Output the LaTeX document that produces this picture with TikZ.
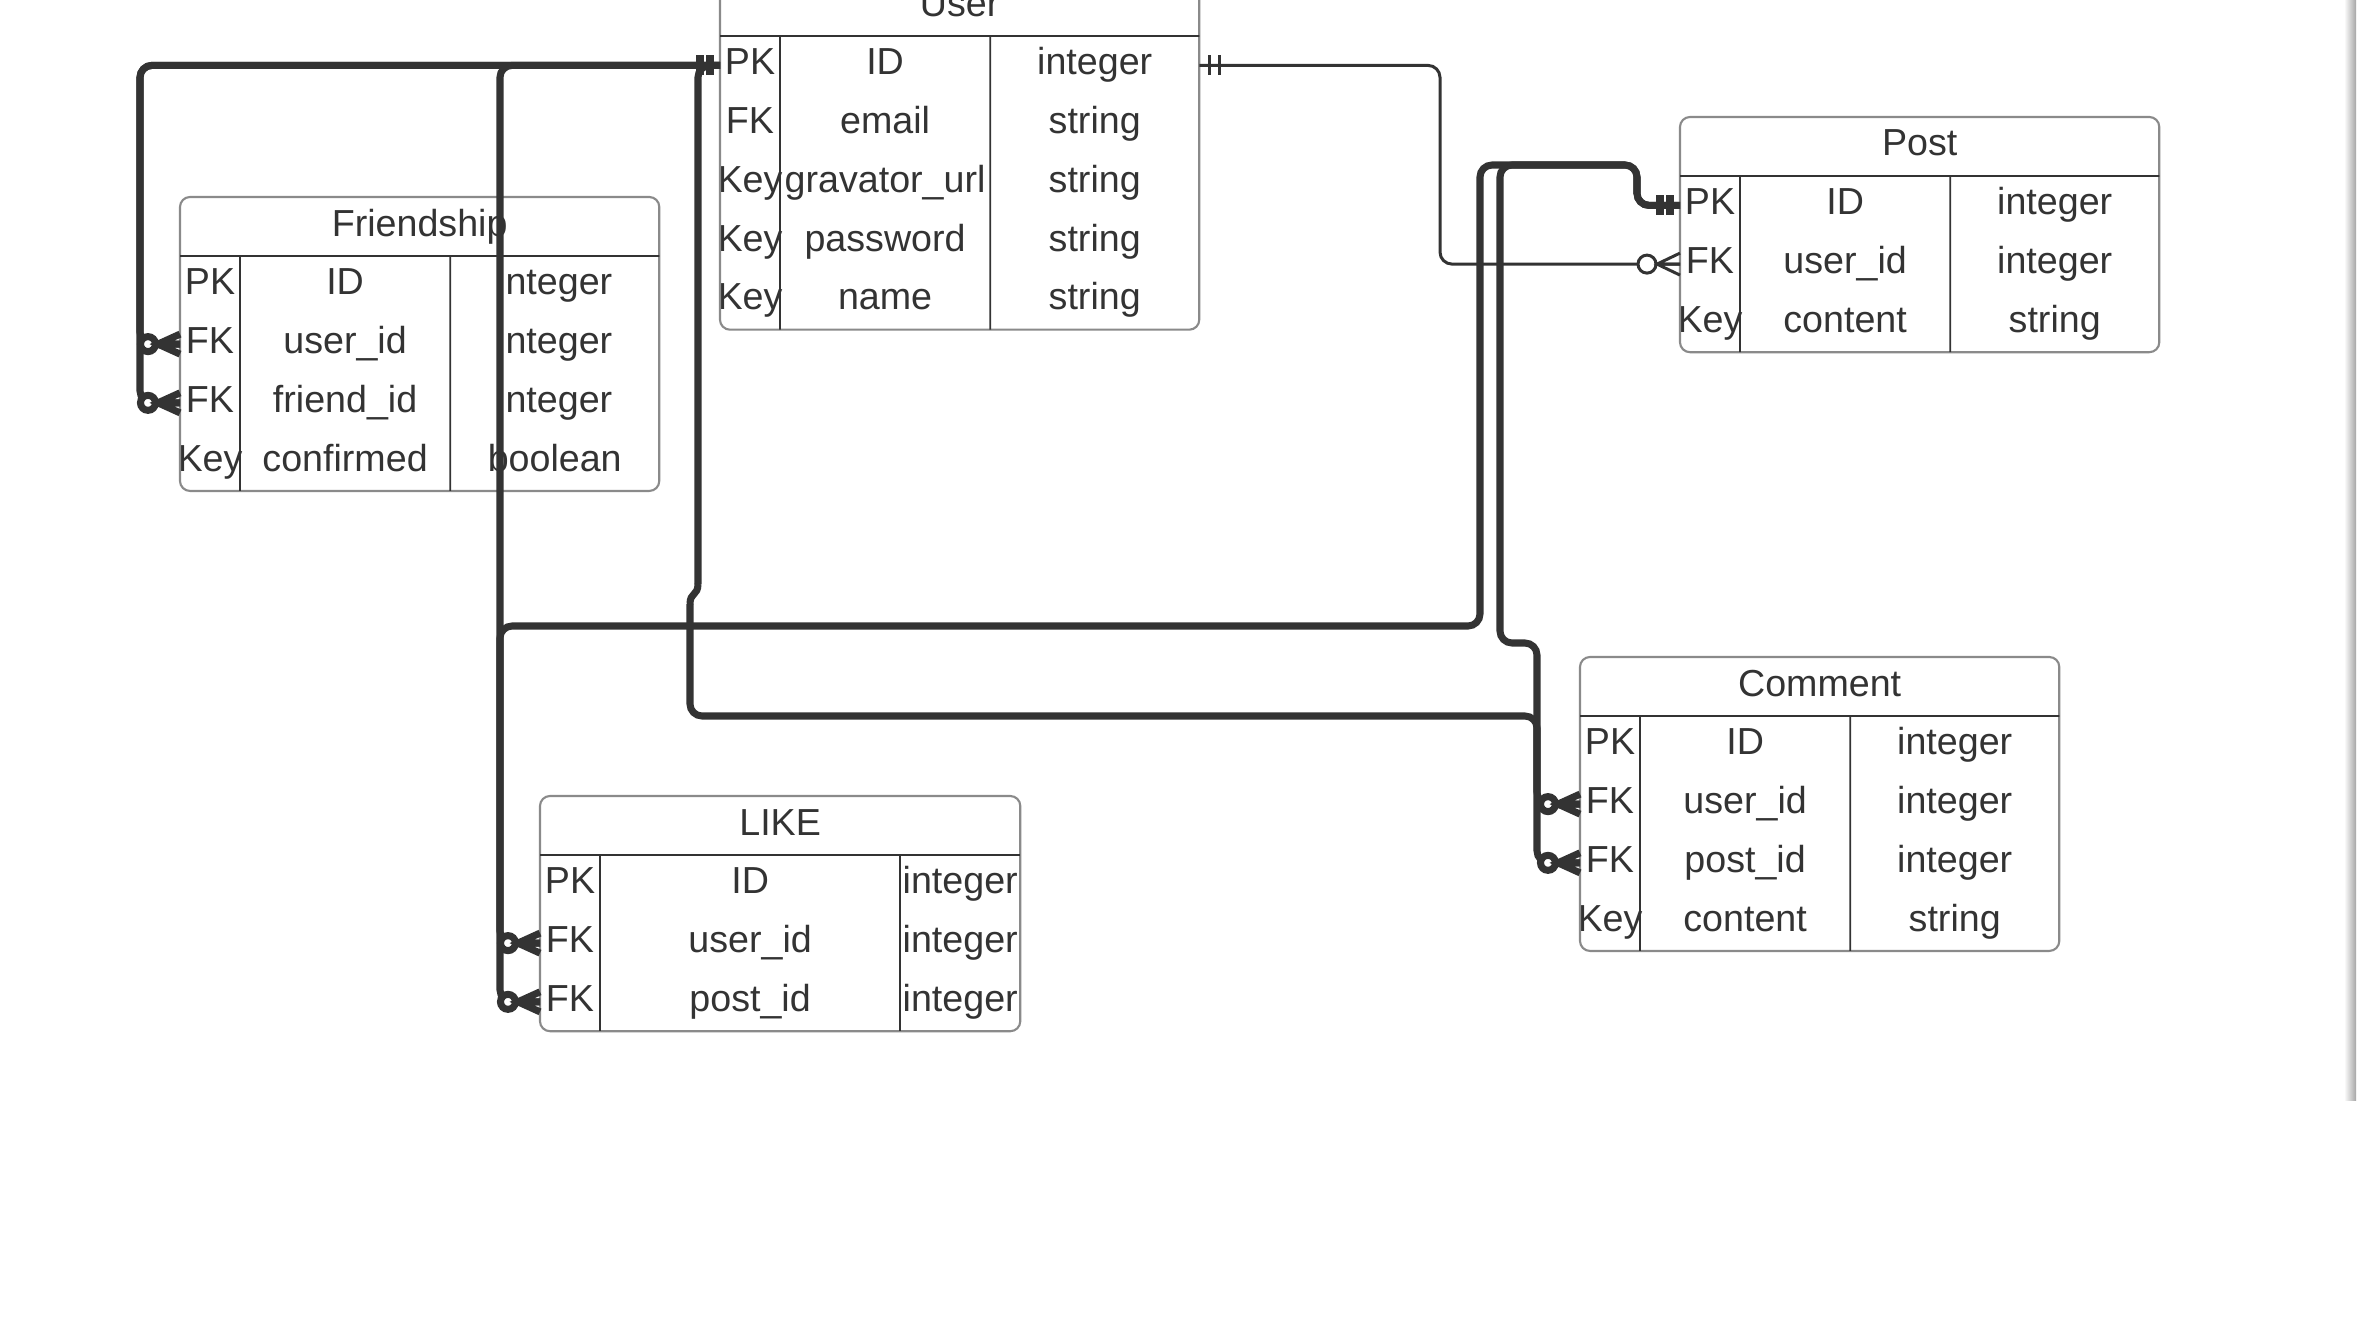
\documentclass[tikz,border=0pt]{standalone}
\usepackage{fontspec}
\setmainfont{Liberation Sans}
\usepackage{tikz}
\usetikzlibrary{matrix,positioning}
\definecolor{ERInk}{HTML}{333333}
\definecolor{FrameGray}{HTML}{8A8A8A}
\tikzset{
  exactone/.pic={\draw[line width=2pt] (-20,-10) -- (-20,10) (-10,-10) -- (-10,10);},
  exactonethin/.pic={\draw[line width=0.85pt] (-20,-10) -- (-20,10) (-10,-10) -- (-10,10);},
  zeromany/.pic={\draw[line width=2pt,fill=white] (-32,0) circle[radius=0.075cm];
    \draw[line width=2pt] (0,-10) -- (-22,0) -- (0,10) (-22,0) -- (0,0);},
  zeromanythin/.pic={\draw[line width=0.85pt,fill=white] (-33,0) circle[radius=0.09cm];
    \draw[line width=0.85pt] (0,-11) -- (-23,0) -- (0,11) (-23,0) -- (0,0);}
}
\begin{document}
\begin{tikzpicture}[x=0.01cm,y=-0.01cm,node distance=0pt,ERInk]
\tikzstyle{ertable}=[matrix of nodes,inner sep=0pt,outer sep=0pt,matrix anchor=north west,
  nodes={inner sep=0pt,outer sep=0pt,minimum height=0.587cm,text height=0.3cm,text depth=0.11cm,font=\fontsize{10.7}{13}\selectfont,text=ERInk},
  column 1/.style={nodes={minimum width=0.6cm,inner xsep=-0.1cm}},
  column 2/.style={nodes={minimum width=2.1cm}},
  column 3/.style={nodes={minimum width=2.09cm}}]
\tikzstyle{erhead}=[inner sep=0pt,outer sep=0pt,minimum width=4.79cm,minimum height=0.59cm,text height=0.3cm,text depth=0.11cm,font=\fontsize{10.7}{13}\selectfont,text=ERInk]
\tikzstyle{erframe}=[draw=FrameGray,line width=0.6pt,rounded corners=0.1cm]
\tikzstyle{ercol}=[draw=ERInk,line width=0.5pt]
\tikzstyle{rel}=[draw=ERInk,line width=2pt,rounded corners=0.12cm]
\tikzstyle{relthin}=[draw=ERInk,line width=0.85pt,rounded corners=0.12cm]
\path[use as bounding box,fill=white] (0,0) rectangle (2359,1317);
\shade[left color=white,right color=black!35] (2344,0) rectangle (2356,1100);

\matrix[ertable] (user) at (720,36) {
PK & ID & integer \\
FK & email & string \\
Key & gravator\_url & string \\
Key & password & string \\
Key & name & string \\
};
\node[erhead,above=of user] (userhead) {User};
\matrix[ertable] (fr) at (180,256) {
PK & ID & integer \\
FK & user\_id & integer \\
FK & friend\_id & integer \\
Key & confirmed & boolean \\
};
\node[erhead,above=of fr] (frhead) {Friendship};
\matrix[ertable] (post) at (1680,176) {
PK & ID & integer \\
FK & user\_id & integer \\
Key & content & string \\
};
\node[erhead,above=of post] (posthead) {Post};
\matrix[ertable] (com) at (1580,716) {
PK & ID & integer \\
FK & user\_id & integer \\
FK & post\_id & integer \\
Key & content & string \\
};
\node[erhead,above=of com] (comhead) {Comment};
\matrix[ertable,column 2/.style={nodes={minimum width=3cm}},column 3/.style={nodes={minimum width=1.2cm}}] (like) at (540,855) {
PK & ID & integer \\
FK & user\_id & integer \\
FK & post\_id & integer \\
};
\node[erhead,minimum width=4.8cm,above=of like] (likehead) {LIKE};

\draw[erframe] (userhead.north west) rectangle (user.south east);
\draw[ercol] (userhead.south west) -- (userhead.south east)
  (user-1-1.north east) -- (user-5-1.south east)
  (user-1-2.north east) -- (user-5-2.south east);
\draw[erframe] (frhead.north west) rectangle (fr.south east);
\draw[ercol] (frhead.south west) -- (frhead.south east)
  (fr-1-1.north east) -- (fr-4-1.south east)
  (fr-1-2.north east) -- (fr-4-2.south east);
\draw[erframe] (posthead.north west) rectangle (post.south east);
\draw[ercol] (posthead.south west) -- (posthead.south east)
  (post-1-1.north east) -- (post-3-1.south east)
  (post-1-2.north east) -- (post-3-2.south east);
\draw[erframe] (comhead.north west) rectangle (com.south east);
\draw[ercol] (comhead.south west) -- (comhead.south east)
  (com-1-1.north east) -- (com-4-1.south east)
  (com-1-2.north east) -- (com-4-2.south east);
\draw[erframe] (likehead.north west) rectangle (like.south east);
\draw[ercol] (likehead.south west) -- (likehead.south east)
  (like-1-1.north east) -- (like-3-1.south east)
  (like-1-2.north east) -- (like-3-2.south east);

\coordinate (frch) at (140,0);
\coordinate (likech) at (500,0);
\coordinate (jogtop) at (698,584);
\coordinate (jogbot) at (690,604);
\coordinate (comturn) at (690,716);
\coordinate (comch) at (1537,0);
\coordinate (postrise) at (1637,165);
\coordinate (likedrop) at (1480,626);
\coordinate (comdrop) at (1500,643);
\coordinate (thinch) at (1440,0);

\draw[rel] (user-1-1.west) -| (frch |- fr-2-1.west) -- (fr-2-1.west);
\draw[rel] (user-1-1.west) -| (frch |- fr-3-1.west) -- (fr-3-1.west);
\draw[rel] (user-1-1.west) -| (likech |- like-2-1.west) -- (like-2-1.west);
\draw[rel] (user-1-1.west) -| (jogtop);
\draw[rel,sharp corners] (jogtop) .. controls (698,596) and (690,592) .. (jogbot);
\draw[rel] (jogbot) -- (comturn) -| (comch |- com-2-1.west) -- (com-2-1.west);
\draw[rel] (post-1-1.west) -| (postrise) -| (likedrop) -| (likech |- like-3-1.west) -- (like-3-1.west);
\draw[rel] (post-1-1.west) -| (postrise) -| (comdrop) -| (comch |- com-3-1.west) -- (com-3-1.west);
\draw[relthin] (user-1-3.east) -| (thinch |- post-2-1.west) -- (post-2-1.west);

\pic at (user-1-1.west) {exactone};
\pic at (post-1-1.west) {exactone};
\pic[xscale=-1] at (user-1-3.east) {exactonethin};
\pic at (fr-2-1.west) {zeromany};
\pic at (fr-3-1.west) {zeromany};
\pic at (like-2-1.west) {zeromany};
\pic at (like-3-1.west) {zeromany};
\pic at (com-2-1.west) {zeromany};
\pic at (com-3-1.west) {zeromany};
\pic at (post-2-1.west) {zeromanythin};
\end{tikzpicture}
\end{document}
